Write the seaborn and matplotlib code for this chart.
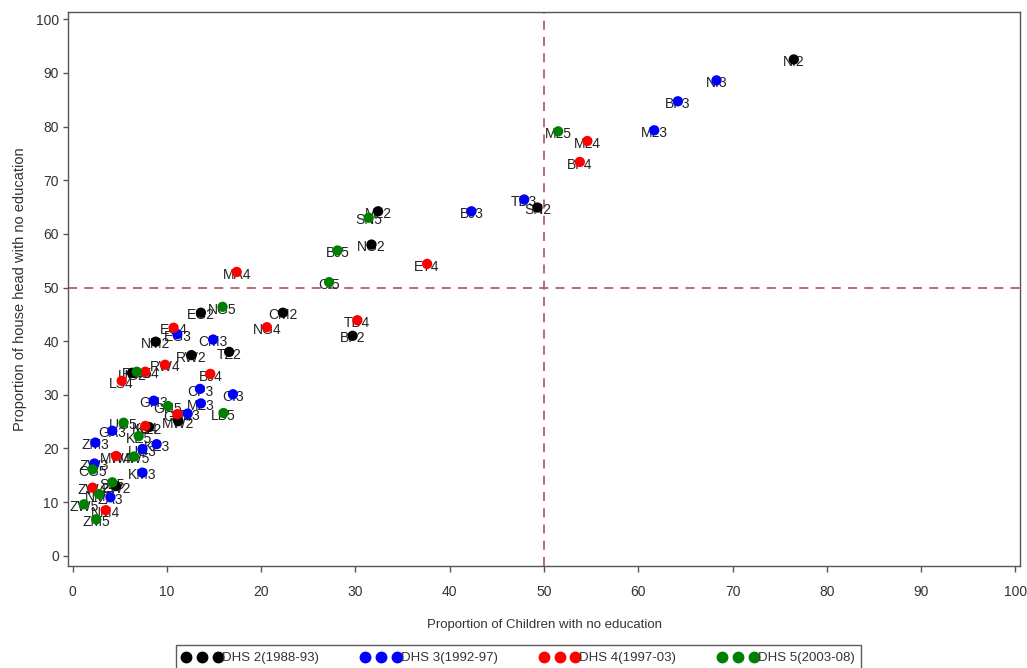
import matplotlib
matplotlib.use("Agg")
import matplotlib.pyplot as plt
from matplotlib.lines import Line2D
import seaborn as sns
import pandas as pd

# DHS 2 (1988-93)
dhs2_labels = ["NI2", "SN2", "ML2", "NG2", "EG2", "CM2", "BF2", "NM2", "TZ2", "RW2", "UG2", "MW2", "KE2", "ZW2"]
dhs2_x = [76.5, 49.3, 32.4, 31.7, 13.6, 22.3, 29.7, 8.8, 16.6, 12.6, 6.3, 11.2, 8.1, 4.6]
dhs2_y = [92.5, 64.9, 64.2, 58.0, 45.3, 45.3, 41.0, 39.9, 38.0, 37.4, 34.1, 25.1, 24.0, 13.0]

# DHS 3 (1992-97)
dhs3_labels = ["NI3", "BF3", "ML3", "TD3", "BJ3", "EG3", "CM3", "CI3", "CF3", "MZ3", "TZ3", "GH3",
               "GA3", "ZM3", "KE3", "UG3", "KM3", "ZW3", "ZA3"]
dhs3_x = [68.3, 64.2, 61.7, 47.9, 42.3, 11.1, 14.9, 17.0, 13.5, 13.6, 12.2, 8.6,
          4.2, 2.4, 8.9, 7.4, 7.4, 2.3, 4.0]
dhs3_y = [88.6, 84.7, 79.3, 66.4, 64.2, 41.3, 40.3, 30.1, 31.1, 28.4, 26.5, 28.9,
          23.3, 21.1, 20.8, 19.9, 15.5, 17.2, 10.9]

# DHS 4 (1997-03)
dhs4_labels = ["ML4", "BF4", "ET4", "MA4", "TD4", "NG4", "EG4", "RW4", "BJ4", "LS4", "UG4",
               "KE4", "GH4", "MW4", "ZW4", "NM4"]
dhs4_x = [54.6, 53.8, 37.6, 17.4, 30.2, 20.6, 10.7, 9.8, 14.6, 5.2, 7.7,
          7.7, 11.1, 4.6, 2.1, 3.5]
dhs4_y = [77.3, 73.4, 54.4, 52.9, 43.9, 42.6, 42.5, 35.6, 33.9, 32.6, 34.3,
          24.2, 26.4, 18.6, 12.7, 8.5]

# DHS 5 (2003-08)
dhs5_labels = ["ML5", "SN5", "BJ5", "CI5", "NG5", "LB5", "RW5", "GH5", "UG5", "KE5", "MW5",
               "CG5", "SZ5", "NM5", "ZW5", "ZM5"]
dhs5_x = [51.5, 31.4, 28.1, 27.2, 15.9, 16.0, 6.8, 10.1, 5.4, 7.0, 6.5,
          2.1, 4.2, 2.8, 1.2, 2.5]
dhs5_y = [79.1, 63.0, 56.9, 51.0, 46.4, 26.6, 34.3, 27.9, 24.8, 22.3, 18.5,
          16.1, 13.7, 11.5, 9.6, 6.8]

rounds = ["DHS 2(1988-93)", "DHS 3(1992-97)", "DHS 4(1997-03)", "DHS 5(2003-08)"]
colors = ["#000000", "#0000ff", "#ff0000", "#008000"]
ref_x = 50
ref_y = 50

frames = []
for r, lab, xs, ys in zip(rounds,
                          [dhs2_labels, dhs3_labels, dhs4_labels, dhs5_labels],
                          [dhs2_x, dhs3_x, dhs4_x, dhs5_x],
                          [dhs2_y, dhs3_y, dhs4_y, dhs5_y]):
    frames.append(pd.DataFrame({"label": lab, "x": xs, "y": ys, "round": r}))
df = pd.concat(frames, ignore_index=True)

sns.set_style("white")
plt.rcParams["font.family"] = ["Liberation Sans", "DejaVu Sans"]

fig = plt.figure(figsize=(10.27, 6.68), dpi=100)
ax = fig.add_axes([0.0662, 0.1527, 0.927, 0.829])

ax.axvline(ref_x, color="#b0606e", lw=1.3, ls=(0, (5, 4)), zorder=1)
ax.axhline(ref_y, color="#b0606e", lw=1.3, ls=(0, (5, 4)), zorder=1)

for _, row in df.iterrows():
    ax.text(row["x"], row["y"] - 0.5, row["label"], ha="center", va="center",
            fontsize=10, color="#222222", zorder=2)

sns.scatterplot(data=df, x="x", y="y", hue="round", palette=dict(zip(rounds, colors)),
                s=55, linewidth=0, legend=False, ax=ax, zorder=3)

ax.set_xlim(-0.5, 100.5)
ax.set_ylim(-1.9, 101.3)
ax.set_xticks(range(0, 101, 10))
ax.set_yticks(range(0, 101, 10))
ax.tick_params(axis="both", direction="out", width=1, color="#555555",
               labelsize=10, labelcolor="#333333", left=True, bottom=True)
ax.tick_params(axis="x", length=4.5, pad=9.5)
ax.tick_params(axis="y", length=3.6, pad=3)
for sp in ax.spines.values():
    sp.set_color("#555555")
    sp.set_linewidth(1.0)

ax.set_xlabel("Proportion of Children with no education", fontsize=9.5, color="#333333", labelpad=14)
ax.set_ylabel("Proportion of house head with no education", fontsize=10.5, color="#333333", labelpad=6)

handles = [Line2D([0], [0], marker="o", ls="none", color=c, markersize=7.5) for c in colors]
leg = fig.legend(handles, rounds, loc="upper center", bbox_to_anchor=(0.505, 0.034),
                 ncol=4, numpoints=3, frameon=True, fancybox=False, fontsize=9.5,
                 handlelength=3.0, handletextpad=0.0, columnspacing=3.2,
                 borderpad=0.5, borderaxespad=0.0, edgecolor="#333333")
leg.get_frame().set_linewidth(1.0)
for t in leg.get_texts():
    t.set_color("#333333")

fig.savefig("out.png", dpi=100)
